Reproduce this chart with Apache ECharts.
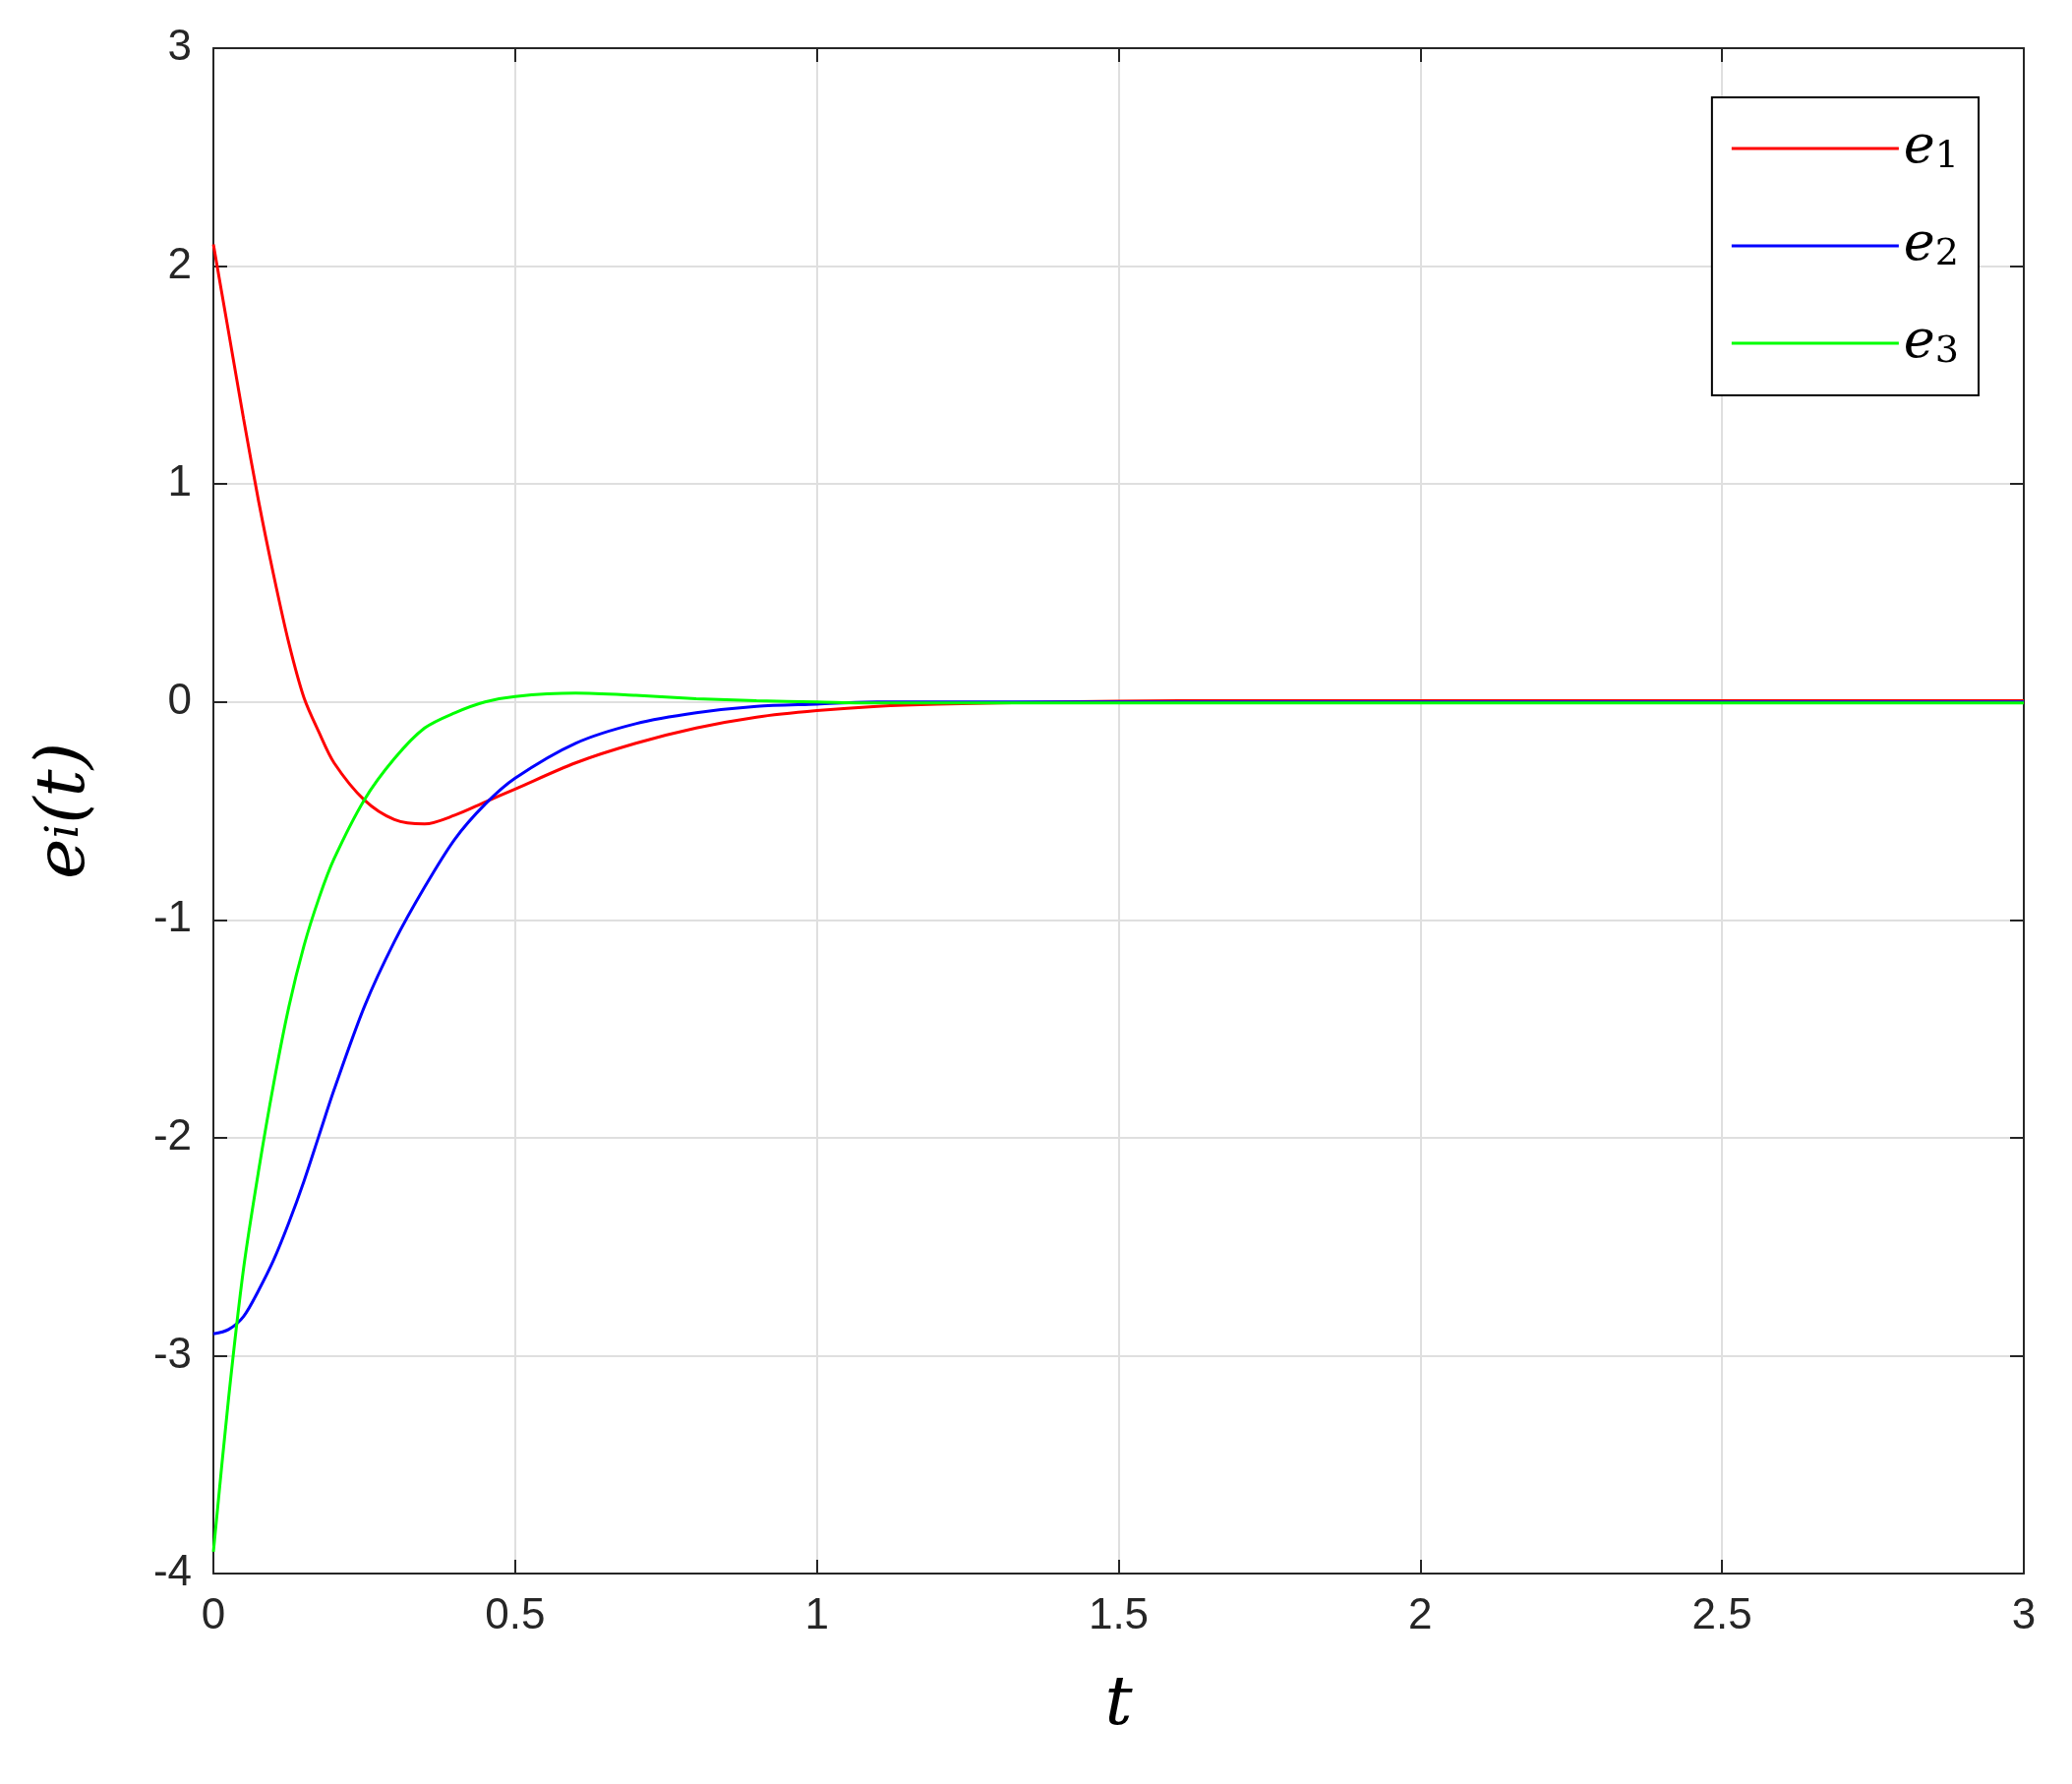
<!DOCTYPE html><html><head><meta charset="utf-8">
<script src="https://cdn.jsdelivr.net/npm/echarts@6/dist/echarts.min.js"></script>
<style>html,body{margin:0;background:#fff}#c{width:2107px;height:1814px}</style></head><body><div id="c"></div>
<script>
const t  = [0,0.025,0.05,0.075,0.1,0.125,0.15,0.175,0.2,0.25,0.3,0.35,0.4,0.45,0.5,0.6,0.7,0.8,0.9,1.0,1.1,1.2,1.4,1.6,2.0,2.5,3.0];
const e1 = [2.1,1.7,1.3,0.92,0.58,0.27,0.02,-0.14,-0.28,-0.45,-0.54,-0.56,-0.52,-0.46,-0.40,-0.28,-0.19,-0.12,-0.07,-0.04,-0.02,-0.01,0,0.005,0.005,0.005,0.005];
const e2 = [-2.9,-2.88,-2.82,-2.7,-2.56,-2.39,-2.2,-1.99,-1.78,-1.4,-1.1,-0.85,-0.63,-0.47,-0.35,-0.19,-0.1,-0.05,-0.02,-0.01,0,0,0,0,0,0,0];
const e3 = [-3.9,-3.2,-2.6,-2.15,-1.75,-1.4,-1.12,-0.9,-0.72,-0.45,-0.26,-0.12,-0.05,0.0,0.025,0.04,0.03,0.015,0.005,0,-0.005,-0.005,-0.005,-0.005,-0.005,-0.005,-0.005];
const names = ['e1','e2','e3'];
const colors = ['#ff0000','#0000ff','#00ff00'];
const chart = echarts.init(document.getElementById('c'));
const mk = d => t.map((x,i)=>[x,d[i]]);
const axLab = {fontSize:44,color:'#262626',fontFamily:'Arial, Liberation Sans'};
const line = {show:true,onZero:false,lineStyle:{color:'#262626',width:2}};
const tick = {show:true,inside:true,length:14,lineStyle:{color:'#262626',width:2}};
chart.setOption({
  animation:false,
  grid:{left:217,right:49,top:49,bottom:214,show:false},
  legend:{right:95,top:99,orient:'vertical',itemWidth:170,itemHeight:3,itemGap:44,padding:[25,20,25,20],
    borderColor:'#000',borderWidth:2,backgroundColor:'#fff',
    icon:'rect',
    formatter:n=>'{a|e}{b|'+n.slice(1)+'}',
    textStyle:{rich:{a:{fontSize:54,fontStyle:'italic',fontFamily:'DejaVu Serif, serif',color:'#000'},
      b:{fontSize:38,fontFamily:'DejaVu Serif, serif',color:'#000',padding:[18,0,0,0]}}},
    data:names},
  xAxis:[{type:'value',min:0,max:3,interval:0.5,name:'t',nameLocation:'middle',nameGap:100,
    nameTextStyle:{fontSize:70,fontStyle:'italic',fontFamily:'DejaVu Serif, serif',color:'#000'},
    axisLine:line,axisTick:tick,
    axisLabel:Object.assign({margin:22},axLab),splitLine:{lineStyle:{color:'#dfdfdf',width:2}}},
    {type:'value',position:'top',min:0,max:3,interval:0.5,axisLine:line,
    axisTick:tick,axisLabel:{show:false},splitLine:{show:false}}],
  yAxis:[{type:'value',min:-4,max:3,interval:1,name:'e{s|i}(t)',nameLocation:'middle',nameGap:115,
    nameTextStyle:{fontSize:70,fontStyle:'italic',fontFamily:'DejaVu Serif, serif',color:'#000',
      rich:{s:{fontSize:46,fontStyle:'italic',fontFamily:'DejaVu Serif, serif'}}},
    axisLine:line,axisTick:tick,
    axisLabel:Object.assign({margin:22},axLab),splitLine:{lineStyle:{color:'#dfdfdf',width:2}}},
    {type:'value',position:'right',min:-4,max:3,interval:1,axisLine:line,
    axisTick:tick,axisLabel:{show:false},splitLine:{show:false}}],
  series:names.map((n,i)=>({name:n,type:'line',data:mk([e1,e2,e3][i]),smooth:0.3,showSymbol:false,
    lineStyle:{color:colors[i],width:3},itemStyle:{color:colors[i]}}))
});
</script></body></html>
